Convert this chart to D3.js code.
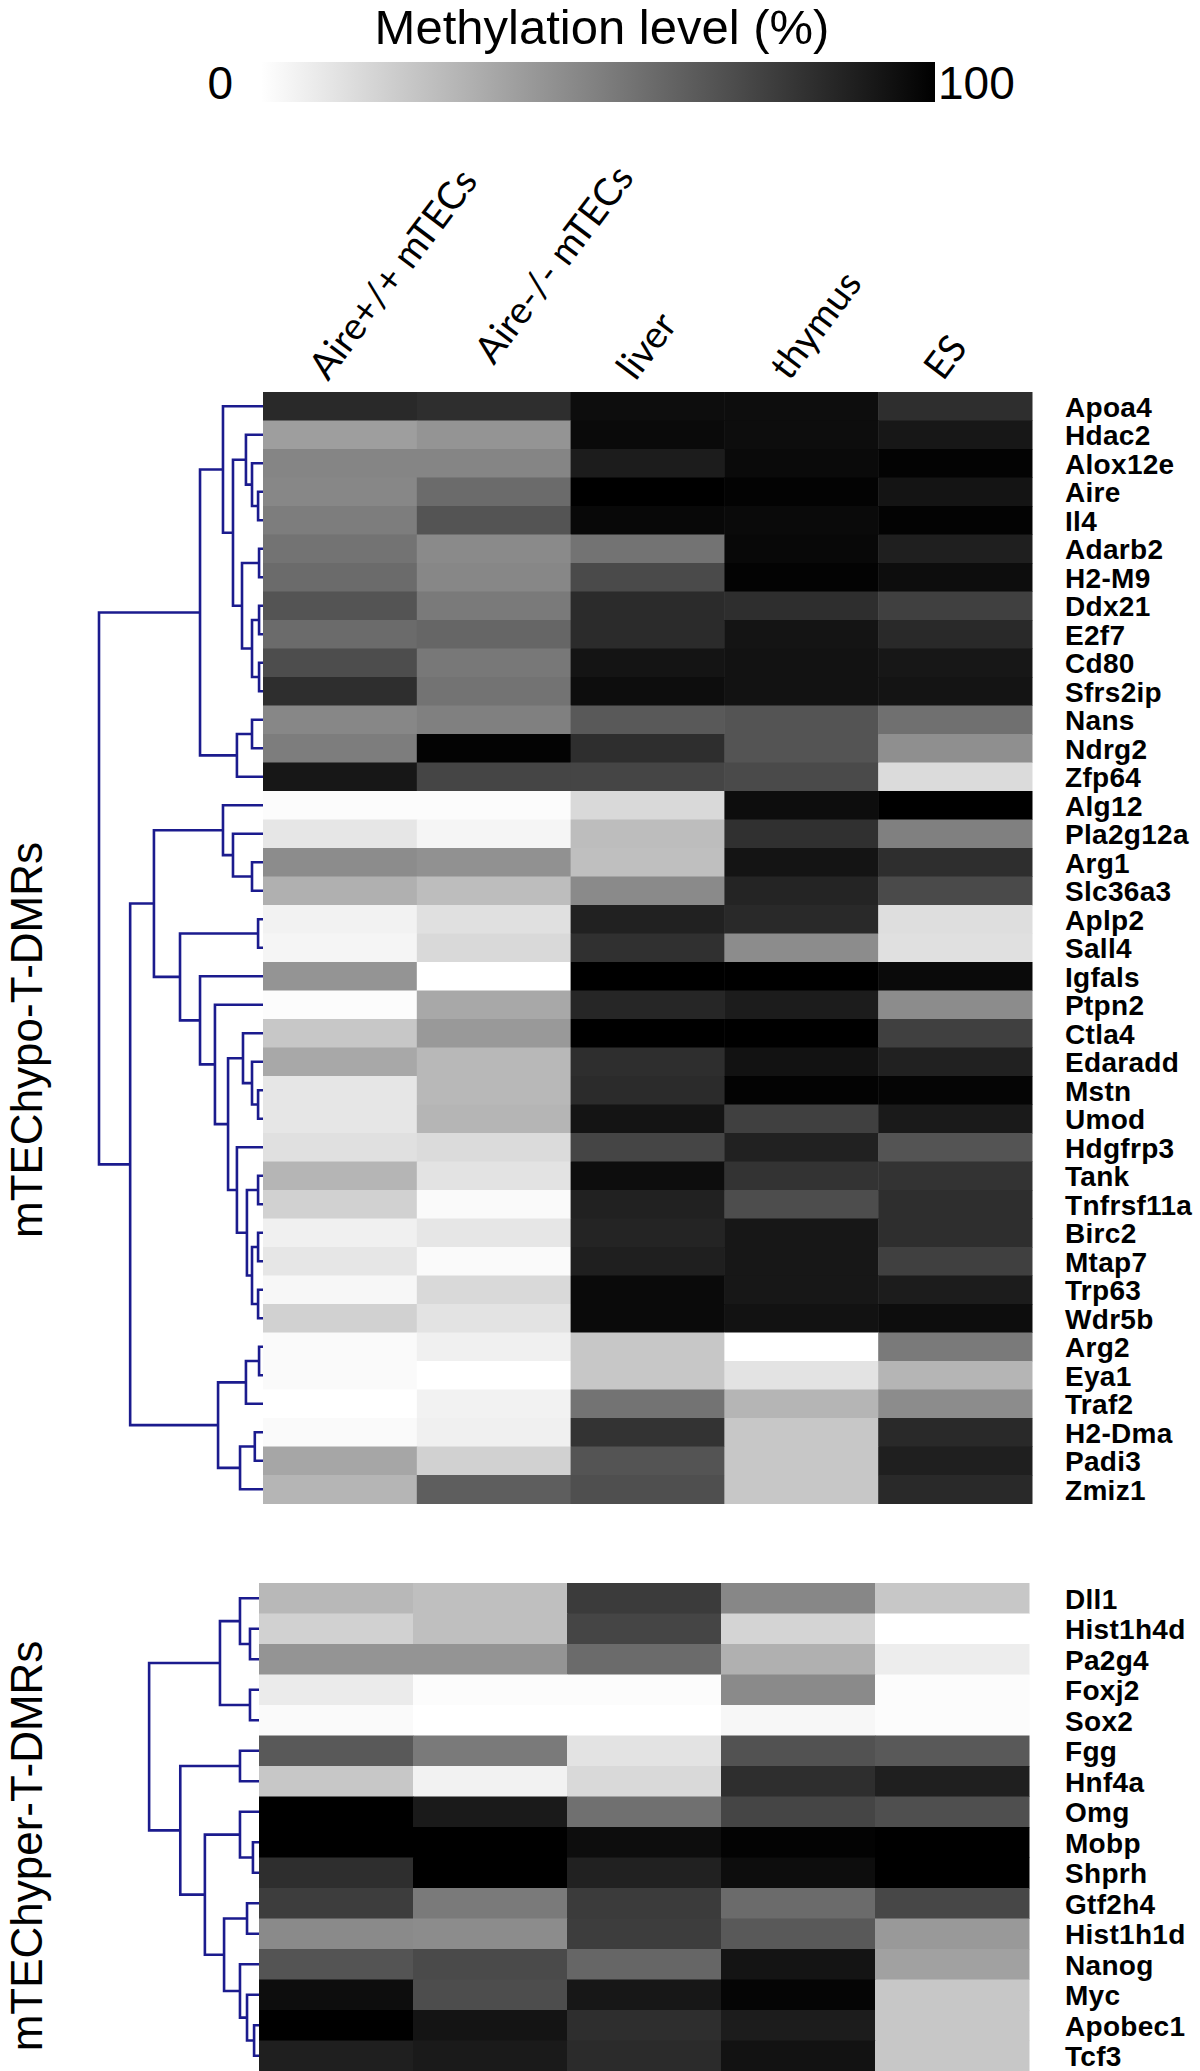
<!DOCTYPE html>
<html>
<head>
<meta charset="utf-8">
<script src="https://cdn.jsdelivr.net/npm/d3@7"></script>
<style>
  body { margin: 0; background: #fff; }
</style>
</head>
<body>
<div id="chart"></div>
<script>
var columns = ['Aire+/+ mTECs', 'Aire-/- mTECs', 'liver', 'thymus', 'ES'];

var hypoGenes = ['Apoa4', 'Hdac2', 'Alox12e', 'Aire', 'Il4', 'Adarb2', 'H2-M9', 'Ddx21', 'E2f7', 'Cd80',
    'Sfrs2ip', 'Nans', 'Ndrg2', 'Zfp64', 'Alg12', 'Pla2g12a', 'Arg1', 'Slc36a3', 'Aplp2', 'Sall4',
    'Igfals', 'Ptpn2', 'Ctla4', 'Edaradd', 'Mstn', 'Umod', 'Hdgfrp3', 'Tank', 'Tnfrsf11a', 'Birc2',
    'Mtap7', 'Trp63', 'Wdr5b', 'Arg2', 'Eya1', 'Traf2', 'H2-Dma', 'Padi3', 'Zmiz1'];

// methylation level (%) per gene, one value per column
var hypoValues = [
    [84, 82, 95, 95, 82], [38, 42, 96, 95, 91], [48, 48, 89, 96, 99], [47, 58, 100, 99, 92],
    [51, 67, 97, 96, 99], [55, 46, 55, 97, 88], [58, 47, 71, 99, 95], [67, 52, 83, 82, 75],
    [58, 60, 83, 92, 84], [70, 53, 92, 93, 91], [82, 55, 95, 93, 92], [47, 50, 65, 67, 56],
    [51, 99, 82, 67, 44], [91, 73, 73, 71, 14], [1, 1, 15, 95, 100], [10, 4, 26, 81, 50],
    [45, 43, 25, 92, 82], [31, 26, 46, 86, 71], [5, 12, 87, 84, 13], [4, 15, 81, 45, 12],
    [42, 0, 100, 100, 96], [1, 34, 85, 89, 45], [22, 40, 100, 100, 75], [34, 28, 82, 93, 87],
    [10, 28, 83, 99, 98], [10, 29, 92, 75, 90], [12, 14, 73, 87, 67], [29, 11, 95, 80, 80],
    [18, 2, 87, 70, 82], [6, 10, 86, 91, 82], [10, 2, 88, 91, 75], [3, 15, 96, 91, 89],
    [18, 11, 96, 93, 95], [2, 6, 22, 0, 52], [2, 0, 22, 11, 29], [0, 5, 55, 29, 45],
    [2, 6, 80, 22, 84], [35, 18, 67, 22, 88], [29, 63, 69, 22, 84]
];

var hyperGenes = ['Dll1', 'Hist1h4d', 'Pa2g4', 'Foxj2', 'Sox2', 'Fgg', 'Hnf4a', 'Omg', 'Mobp', 'Shprh',
    'Gtf2h4', 'Hist1h1d', 'Nanog', 'Myc', 'Apobec1', 'Tcf3'];

var hyperValues = [
    [28, 25, 77, 47, 22], [18, 25, 73, 17, 0], [42, 42, 58, 31, 7], [8, 1, 1, 46, 1],
    [2, 0, 0, 3, 1], [65, 52, 11, 68, 65], [22, 5, 15, 82, 88], [100, 90, 56, 73, 69],
    [100, 100, 95, 99, 100], [82, 100, 87, 95, 100], [76, 52, 77, 58, 72], [46, 45, 76, 65, 40],
    [67, 71, 60, 92, 37], [95, 70, 91, 98, 22], [100, 92, 82, 89, 22], [88, 90, 83, 93, 22]
];

// row dendrograms: [merge height, left, right]; a number is a row index
var hypoTree = [1.0,
    [0.384,
        [0.244, 0, [0.183, [0.104, 1, [0.067, 2, [0.03, 3, 4]]],
            [0.128, [0.024, 5, 6], [0.067, [0.024, 7, 8], [0.024, 9, 10]]]]],
        [0.159, [0.067, 11, 12], 13]],
    [0.81,
        [0.665,
            [0.244, 14, [0.183, 15, [0.067, 16, 17]]],
            [0.506, [0.03, 18, 19],
                [0.384, 20, [0.293, 21, [0.213,
                    [0.122, 22, [0.067, 23, [0.03, 24, 25]]],
                    [0.159, 26, [0.098, [0.03, 27, 28], [0.067, [0.03, 29, 30], [0.03, 31, 32]]]]]]]]],
        [0.274, [0.104, [0.024, 33, 34], 35], [0.14, [0.05, 36, 37], 38]]]];

var hyperTree = [0.67,
    [0.238, [0.116, 0, [0.055, 1, 2]], [0.055, 3, 4]],
    [0.48, [0.116, 5, 6],
        [0.33, [0.116, 7, [0.037, 8, 9]],
            [0.213, [0.073, 10, 11], [0.116, 12, [0.073, 13, [0.03, 14, 15]]]]]]];

var legendTicks = [0, 100];

var width = 1200,
    height = 2071;

var svg = d3.select('#chart')
    .append('svg')
    .attr('width', width)
    .attr('height', height)
    .style('font-family', 'Liberation Sans, Arial, sans-serif');

var color = d3.scaleLinear()
    .domain([0, 100])
    .range(['#ffffff', '#000000']);

// colour bar
var legendX = d3.scaleLinear().domain([0, 100]).range([261, 935]);
var defs = svg.append('defs');
var grad = defs.append('linearGradient')
    .attr('id', 'meth-grad')
    .attr('x1', '0%').attr('x2', '100%')
    .attr('y1', '0%').attr('y2', '0%');
grad.selectAll('stop')
    .data(d3.range(0, 101, 10))
    .enter()
    .append('stop')
    .attr('offset', function (d) { return d + '%'; })
    .attr('stop-color', function (d) { return color(d); });

svg.append('rect')
    .attr('x', legendX(0))
    .attr('y', 62)
    .attr('width', legendX(100) - legendX(0))
    .attr('height', 40)
    .attr('fill', 'url(#meth-grad)');

svg.append('text')
    .attr('x', 602)
    .attr('y', 44)
    .attr('text-anchor', 'middle')
    .attr('font-size', 49)
    .text('Methylation level (%)');

svg.selectAll('.legend-tick')
    .data(legendTicks)
    .enter()
    .append('text')
    .attr('class', 'legend-tick')
    .attr('x', function (d) { return d === 0 ? legendX(d) - 28 : legendX(d) + 3; })
    .attr('y', 99)
    .attr('text-anchor', function (d) { return d === 0 ? 'end' : 'start'; })
    .attr('font-size', 46)
    .text(function (d) { return d; });

function drawBlock(genes, values, tree, top, bottom, left, right, groupLabel) {
    var x = d3.scaleBand().domain(columns).range([left, right]);
    var y = d3.scaleBand().domain(d3.range(genes.length)).range([top, bottom]);

    var g = svg.append('g');
    values.forEach(function (row, i) {
        g.selectAll(null)
            .data(row)
            .enter()
            .append('rect')
            .attr('x', function (d, j) { return x(columns[j]); })
            .attr('y', y(i))
            .attr('width', x.bandwidth() + 0.5)
            .attr('height', y.bandwidth() + 0.5)
            .attr('fill', function (d) { return color(d); });
    });

    svg.append('g')
        .selectAll('text')
        .data(genes)
        .enter()
        .append('text')
        .attr('x', 1065)
        .attr('y', function (d, i) { return y(i) + y.bandwidth() / 2 + 1; })
        .attr('dominant-baseline', 'central')
        .attr('font-size', 28)
        .attr('font-weight', 'bold')
        .attr('letter-spacing', 0.3)
        .text(function (d) { return d; });

    // dendrogram
    var dx = d3.scaleLinear().domain([0, 1]).range([left, left - 164]);
    var root = d3.hierarchy(tree, function (d) { return Array.isArray(d) ? d.slice(1) : null; });
    root.eachAfter(function (n) {
        if (n.children) {
            n.px = dx(n.data[0]);
            n.py = (n.children[0].py + n.children[n.children.length - 1].py) / 2;
        } else {
            n.px = left;
            n.py = y(n.data) + y.bandwidth() / 2;
        }
    });
    var dendro = svg.append('g')
        .attr('fill', 'none')
        .attr('stroke', '#1b1b8e')
        .attr('stroke-width', 2.6);
    root.descendants().filter(function (n) { return n.children; }).forEach(function (n) {
        var a = n.children[0], b = n.children[n.children.length - 1];
        var p = d3.path();
        p.moveTo(a.px, a.py);
        p.lineTo(n.px, a.py);
        p.lineTo(n.px, b.py);
        p.lineTo(b.px, b.py);
        dendro.append('path').attr('d', p.toString());
    });

    svg.append('text')
        .attr('transform', 'translate(42,' + groupLabel.cy + ') rotate(-90)')
        .attr('text-anchor', 'middle')
        .attr('font-size', 44)
        .text(groupLabel.text);

    return x;
}

var xTop = drawBlock(hypoGenes, hypoValues, hypoTree, 392, 1503.5, 263, 1032,
    { text: 'mTEChypo-T-DMRs', cy: 1040 });
drawBlock(hyperGenes, hyperValues, hyperTree, 1583, 2071, 259, 1029,
    { text: 'mTEChyper-T-DMRs', cy: 1846 });

// column labels (the second one sits a little higher and further right)
svg.append('g')
    .selectAll('text')
    .data(columns)
    .enter()
    .append('text')
    .attr('transform', function (d, i) {
        var cx = xTop(d) + xTop.bandwidth() / 2 - 12 + (i === 1 ? 12 : 0);
        var cy = 382 - (i === 1 ? 16 : 0);
        return 'translate(' + cx + ',' + cy + ') rotate(-53)';
    })
    .attr('font-family', 'Lato, Open Sans, sans-serif')
    .attr('font-size', 38)
    .text(function (d) { return d; });
</script>
</body>
</html>
